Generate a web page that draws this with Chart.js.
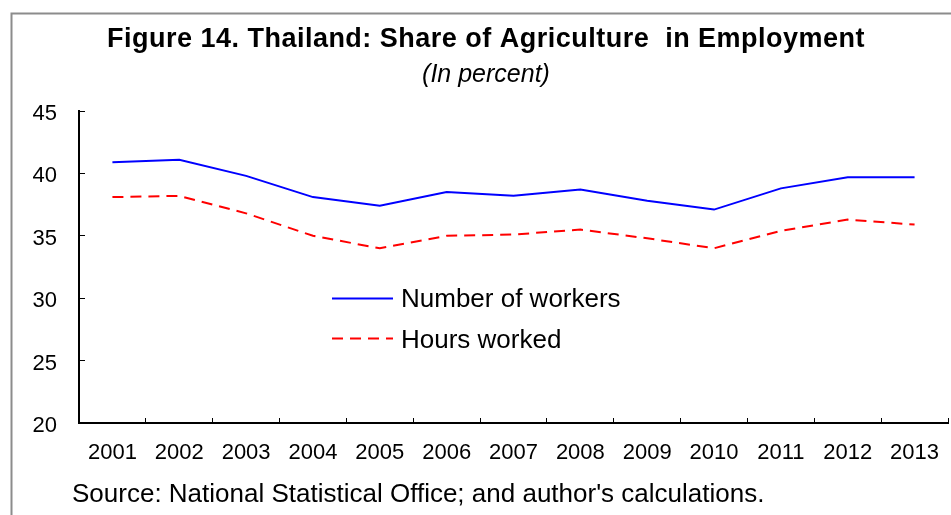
<!DOCTYPE html>
<html>
<head>
<meta charset="utf-8">
<script src="https://cdn.jsdelivr.net/npm/chart.js@4"></script>
<style>
  html, body { margin: 0; padding: 0; background: #fff; }
  #wrap { width: 951px; height: 515px; position: relative; }
</style>
</head>
<body>
<div id="wrap"><canvas id="grafico"></canvas></div>
<script>
  // data
  const years = ["2001", "2002", "2003", "2004", "2005", "2006", "2007",
                 "2008", "2009", "2010", "2011", "2012", "2013"];
  const workers = [40.9, 41.1, 39.8, 38.1, 37.4, 38.5, 38.2, 38.7, 37.8, 37.1, 38.8, 39.7, 39.7];
  const hours = [38.1, 38.2, 36.8, 35.0, 34.0, 35.0, 35.1, 35.5, 34.8, 34.0, 35.4, 36.3, 35.9];
  const yMin = 20, yMax = 45, yStep = 5;

  const titleText = "Figure 14. Thailand: Share of Agriculture  in Employment";
  const subtitleText = "(In percent)";
  const sourceText = "Source: National Statistical Office; and author's calculations.";

  const FONT = "'Liberation Sans', Arial, sans-serif";

  /* frame, titles, note and in-plot legend */
  const figureText = {
    id: "figureText",
    beforeDraw(chart) {
      const ctx = chart.ctx;
      ctx.save();
      ctx.fillStyle = "#fff";
      ctx.fillRect(0, 0, chart.width, chart.height);
      ctx.restore();
    },
    afterDraw(chart) {
      const ctx = chart.ctx;
      ctx.save();

      // gray frame (only top and left visible)
      ctx.strokeStyle = "#8c8c8c";
      ctx.lineWidth = 2;
      ctx.beginPath();
      ctx.moveTo(11.5, chart.height);
      ctx.lineTo(11.5, 13.5);
      ctx.lineTo(chart.width, 13.5);
      ctx.stroke();

      ctx.fillStyle = "#000";
      ctx.textBaseline = "alphabetic";

      // title, stretched to the width seen in the figure
      ctx.font = "bold 27px " + FONT;
      ctx.textAlign = "left";
      const w = ctx.measureText(titleText).width;
      const target = 758;
      if ("letterSpacing" in ctx && w < target) {
        ctx.letterSpacing = ((target - w) / titleText.length).toFixed(2) + "px";
        ctx.fillText(titleText, 107, 47);
        ctx.letterSpacing = "0px";
      } else {
        ctx.textAlign = "center";
        ctx.fillText(titleText, 486, 47);
      }

      ctx.textAlign = "center";
      ctx.font = "italic 25px " + FONT;
      ctx.fillText(subtitleText, 486, 82);

      ctx.textAlign = "left";
      ctx.font = "26px " + FONT;
      ctx.fillText(sourceText, 72, 502);

      // legend inside the plot
      const rows = [{ y: 298.5, base: 307 }, { y: 338.5, base: 348 }];
      chart.data.datasets.forEach((ds, i) => {
        const r = rows[i];
        ctx.strokeStyle = ds.borderColor;
        ctx.lineWidth = ds.borderWidth;
        ctx.setLineDash(ds.borderDash || []);
        ctx.beginPath();
        ctx.moveTo(332, r.y);
        ctx.lineTo(393, r.y);
        ctx.stroke();
        ctx.setLineDash([]);
        ctx.fillStyle = "#000";
        ctx.font = "26px " + FONT;
        ctx.fillText(ds.label, 401, r.base);
      });

      ctx.restore();
    }
  };

  new Chart(document.getElementById("grafico"), {
    type: "line",
    data: {
      labels: years,
      datasets: [
        {
          label: "Number of workers",
          data: workers,
          borderColor: "#0000ff",
          borderWidth: 2,
          pointRadius: 0,
          tension: 0,
          fill: false
        },
        {
          label: "Hours worked",
          data: hours,
          borderColor: "#ff0000",
          borderWidth: 2,
          borderDash: [11, 7],
          pointRadius: 0,
          tension: 0,
          fill: false
        }
      ]
    },
    options: {
      responsive: true,
      maintainAspectRatio: false,
      animation: false,
      devicePixelRatio: 1,
      layout: { padding: { top: 111, right: 3, left: 0, bottom: 0 } },
      plugins: {
        legend: { display: false },
        title: { display: false },
        tooltip: { enabled: false }
      },
      scales: {
        x: {
          type: "category",
          offset: true,
          grid: {
            offset: true,
            drawOnChartArea: false,
            drawTicks: true,
            tickLength: -5,
            color: "#000",
            lineWidth: 1
          },
          border: { display: true, color: "#000", width: 2 },
          ticks: {
            color: "#000",
            font: { family: FONT, size: 22 },
            padding: 22,
            maxRotation: 0,
            autoSkip: false
          },
          afterFit: s => {
            s.height = 92;
            s.paddingLeft = 0;
            s.paddingRight = 0;
          }
        },
        y: {
          min: yMin,
          max: yMax,
          grid: {
            drawOnChartArea: false,
            drawTicks: true,
            tickLength: -6,
            color: "#000",
            lineWidth: 1
          },
          border: { display: true, color: "#000", width: 2 },
          ticks: {
            stepSize: yStep,
            color: "#000",
            font: { family: FONT, size: 22 },
            padding: 28,
            labelOffset: 3
          },
          afterFit: s => {
            s.width = 79;
            s.paddingTop = 0;
            s.paddingBottom = 0;
          }
        }
      }
    },
    plugins: [figureText]
  });
</script>
</body>
</html>
